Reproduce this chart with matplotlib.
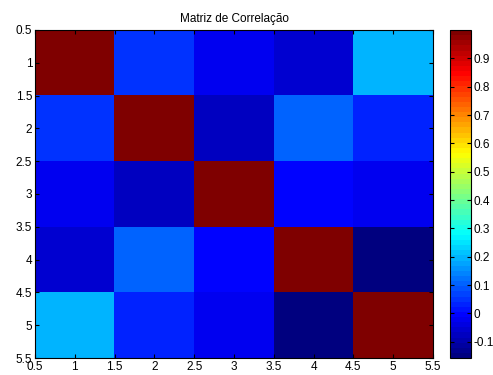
import numpy as np
import matplotlib
matplotlib.use("Agg")
import matplotlib.pyplot as plt
from matplotlib.colors import ListedColormap

plt.rcParams['font.family'] = ['Liberation Sans', 'DejaVu Sans']

title = "Matriz de Correlação"
labels = [1, 2, 3, 4, 5]
row1 = [1.00, 0.057, -0.030, -0.064, 0.202]
row2 = [0.057, 1.00, -0.070, 0.103, 0.034]
row3 = [-0.030, -0.070, 1.00, 0.000, -0.025]
row4 = [-0.064, 0.103, 0.000, 1.00, -0.157]
row5 = [0.202, 0.034, -0.025, -0.157, 1.00]
ticks = [0.5, 1, 1.5, 2, 2.5, 3, 3.5, 4, 4.5, 5, 5.5]
cbar_ticks = [-0.1, 0, 0.1, 0.2, 0.3, 0.4, 0.5, 0.6, 0.7, 0.8, 0.9]

M = np.array([row1, row2, row3, row4, row5])

# MATLAB-style jet(64)
x = np.linspace(0, 1, 64)
r = np.clip(1.5 - np.abs(4 * x - 3), 0, 1)
g = np.clip(1.5 - np.abs(4 * x - 2), 0, 1)
b = np.clip(1.5 - np.abs(4 * x - 1), 0, 1)
cmap = ListedColormap(np.column_stack([r, g, b]))

fig = plt.figure(figsize=(4.93, 3.75), dpi=100)
ax = fig.add_axes([35 / 493, 1 - 358 / 375, 398 / 493, 328 / 375])
cax = fig.add_axes([450 / 493, 1 - 358 / 375, 21 / 493, 328 / 375])

n = len(labels)
im = ax.imshow(M, cmap=cmap, vmin=M.min(), vmax=M.max(), aspect='auto',
               extent=[0.5, n + 0.5, n + 0.5, 0.5], interpolation='nearest')
ax.set_xticks(ticks)
ax.set_yticks(ticks)
ax.set_xticklabels([f"{t:g}" for t in ticks])
ax.set_yticklabels([f"{t:g}" for t in ticks])
ax.tick_params(direction='in', length=3, labelsize=8.5, top=True, right=True, pad=2)
ax.set_title(title, fontsize=8.5, pad=6)

cb = fig.colorbar(im, cax=cax, ticks=cbar_ticks)
cb.ax.set_yticklabels([f"{t:g}" for t in cbar_ticks])
cb.ax.tick_params(direction='in', length=3, labelsize=8.5, left=True, right=True, pad=2)
cb.outline.set_linewidth(0.8)

fig.savefig("out.png", dpi=100)
